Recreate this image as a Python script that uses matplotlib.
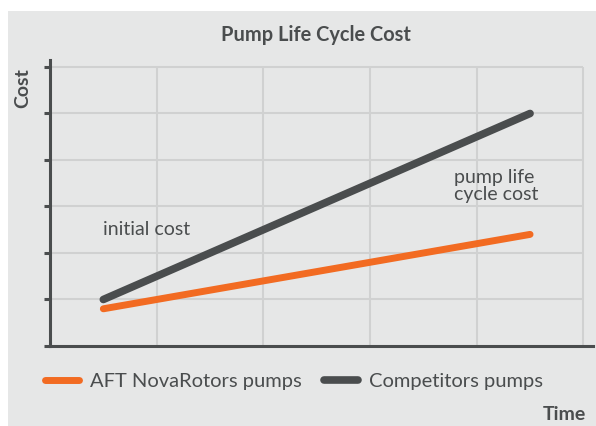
import matplotlib.pyplot as plt
from matplotlib.patches import Rectangle

# data (arbitrary units)
time = [0.5, 4.5]
aft_cost = [0.8, 2.4]
competitor_cost = [1.0, 5.0]
x_grid = [1, 2, 3, 4, 5]
y_grid = [1, 2, 3, 4, 5, 6]

orange = "#f26b22"
dark = "#4a4d4e"
bg = "#e6e7e7"
gridc = "#d0d1d1"

plt.rcParams['font.family'] = ['Lato', 'DejaVu Sans']

fig = plt.figure(figsize=(5.96, 4.26), dpi=100)
fig.patch.set_facecolor("white")
fig.patches.append(Rectangle((8/596, 0), 588/596, 415/426, transform=fig.transFigure,
                             facecolor=bg, edgecolor="none", zorder=-5))

ax = fig.add_axes([50/596, 80/426, 543/596, 286/426])
ax.set_facecolor("none")
ax.set_xlim(0, 5.09)
ax.set_ylim(0, 6.15)

# grid
ax.hlines(y_grid, 0, 5, color=gridc, lw=1.5, zorder=1)
ax.vlines(x_grid, 0, 6, color=gridc, lw=1.5, zorder=1)

ax.plot(time, competitor_cost, color=dark, lw=5.5, solid_capstyle="round", zorder=3,
        label="Competitors pumps")
ax.plot(time, aft_cost, color=orange, lw=5, solid_capstyle="round", zorder=3,
        label="AFT NovaRotors pumps")

for s in ["top", "right"]:
    ax.spines[s].set_visible(False)
for s in ["left", "bottom"]:
    ax.spines[s].set_color(dark)
    ax.spines[s].set_linewidth(2.2)

ax.set_xticks([])
ax.set_yticks([0] + y_grid)
ax.tick_params(axis="y", length=4, width=2.2, color=dark, labelleft=False)

ax.text(0.5, 2.5, "initial cost", fontsize=14, color=dark, va="center")
ax.text(3.79, 3.44, "pump life\ncycle cost", fontsize=14, color=dark, va="center",
        linespacing=0.95)

fig.text(316/596, 1 - 35/426, "Pump Life Cycle Cost", fontsize=14.4, fontweight="bold",
         color=dark, ha="center", va="center")
fig.text(23/596, 1 - 88/426, "Cost", fontsize=14, fontweight="bold", color=dark,
         rotation=90, ha="center", va="center")
fig.text(586/596, 1 - 414/426, "Time", fontsize=14, fontweight="bold", color=dark,
         ha="right", va="center")

handles, labels = ax.get_legend_handles_labels()
fig.legend(handles[::-1], labels[::-1], loc="center", bbox_to_anchor=(294/596, 1 - 381/426),
           ncol=2, frameon=False, fontsize=14.5, labelcolor=dark, handlelength=1.7,
           columnspacing=1.1, handletextpad=0.55)

fig.savefig("out.png", dpi=100)
